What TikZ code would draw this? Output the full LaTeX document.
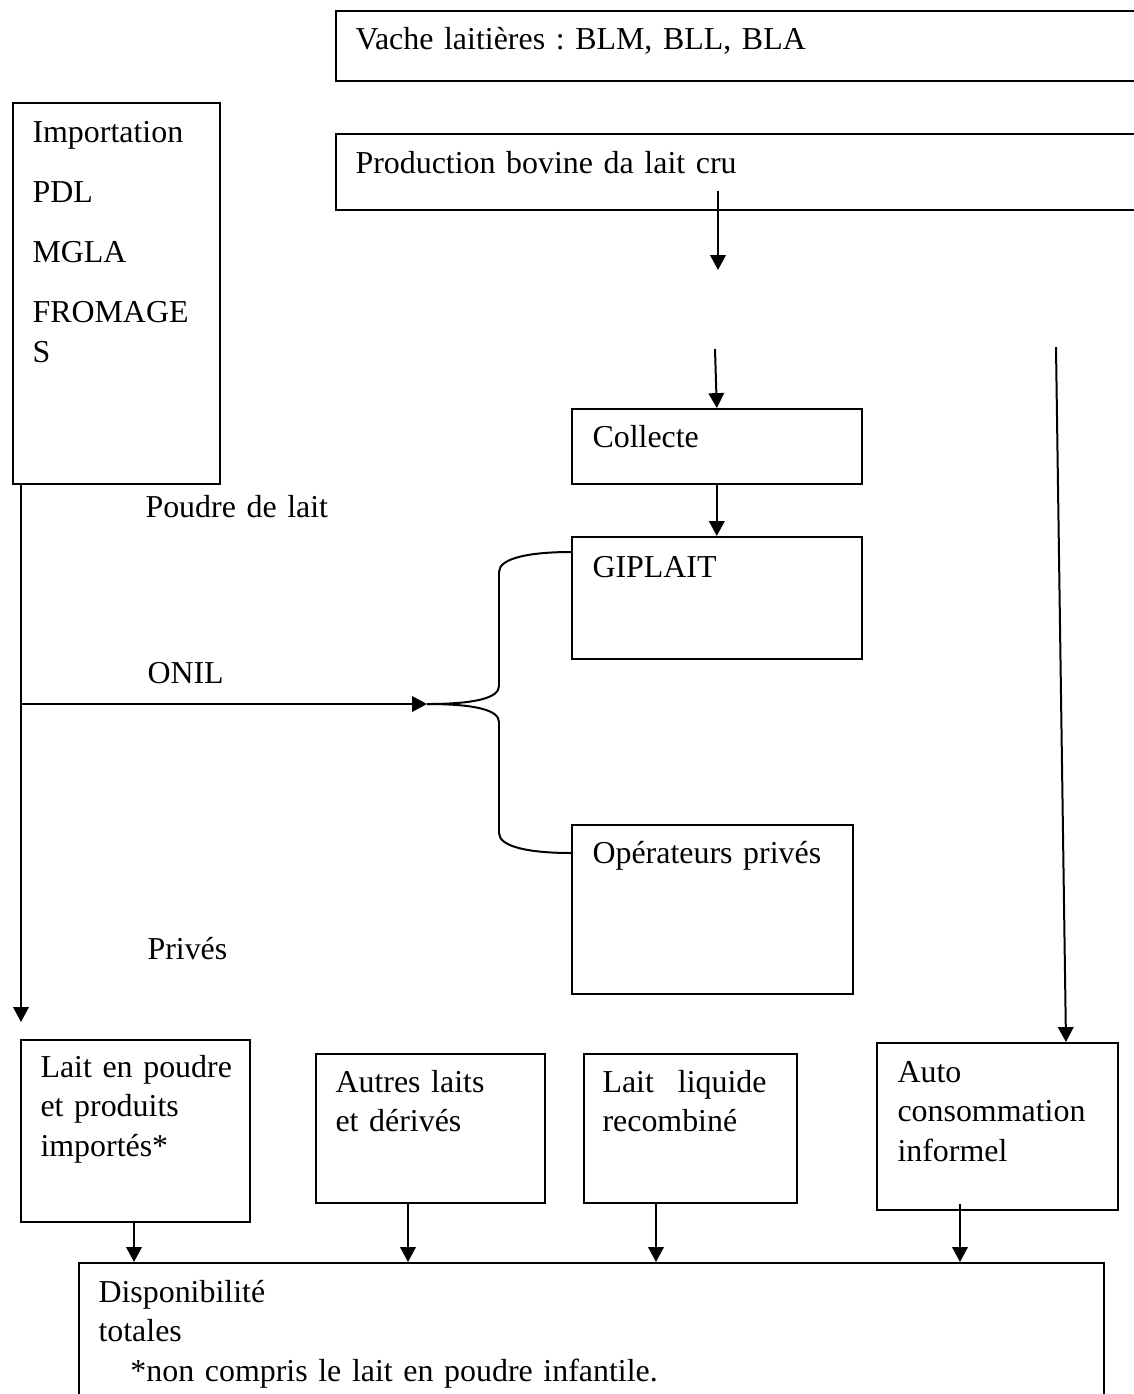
\documentclass[tikz,border=0pt]{standalone}
\usepackage{fontspec}
\setmainfont{Liberation Serif}
\usepackage{tikz}
\usetikzlibrary{arrows.meta, positioning, calc}
\newcommand{\px}{0.376pt}
\newcommand{\boxfont}{\fontsize{12}{15}\selectfont\frenchspacing\spaceskip=2.2pt\relax}

\begin{document}
\begin{tikzpicture}[x=0.376pt, y=-0.376pt, >={Triangle[length=5.6pt, width=5.8pt]},
    every node/.style={font=\boxfont}]
            % styles: plain boxes, text set from the top left corner
            \tikzset{
                box/.style={draw, line width=0.6pt, anchor=north west, inner sep=0pt},
                txt/.style={anchor=base west, inner sep=0pt, align=left, text width=900*\px},
                flow/.style={->, line width=0.75pt}
            }
            \path[use as bounding box, clip] (0,0) rectangle (1134,1394);
            % boxes
            \node[box, minimum width=820*\px, minimum height=70*\px] (vache) at (335,10) {};
            \node[box, minimum width=820*\px, minimum height=76*\px] (prod) at (335,133) {};
            \node[box, minimum width=207*\px, minimum height=381*\px] (import) at (12,102) {};
            \node[box, minimum width=290*\px, minimum height=75*\px] (collecte) at (571,408) {};
            \node[box, minimum width=290*\px, minimum height=122*\px] (giplait) at (571,536) {};
            \node[box, minimum width=281*\px, minimum height=169*\px] (privop) at (571,824) {};
            \node[box, minimum width=229*\px, minimum height=182*\px] (poudre) at (20,1039) {};
            \node[box, minimum width=229*\px, minimum height=149*\px] (autres) at (315,1053) {};
            \node[box, minimum width=213*\px, minimum height=149*\px] (liquide) at (583,1053) {};
            \node[box, minimum width=241*\px, minimum height=167*\px] (auto) at (876,1042) {};
            \node[box, minimum width=1025*\px, minimum height=200*\px] (dispo) at (78,1262) {};
            % texts in the boxes
            \node[txt] (vache-t) at (355,49) {Vache laitières : BLM, BLL, BLA};
            \node[txt] (prod-t) at (355,173) {Production bovine da lait cru};
            \node[txt] (import-t) at (32,142) {Importation\\[7.6pt]PDL\\[7.6pt]MGLA\\[7.6pt]FROMAGE\\S};
            \node[txt] (collecte-t) at (592,447) {Collecte};
            \node[txt] (giplait-t) at (592,577) {GIPLAIT};
            \node[txt] (privop-t) at (592,863) {Opérateurs privés};
            \node[txt] (poudre-t) at (40,1077) {Lait en poudre\\et produits\\importés*};
            \node[txt] (autres-t) at (335,1092) {Autres laits\\et dérivés};
            \node[txt] (liquide-t) at (602,1092) {Lait\hspace{9pt}liquide\\recombiné};
            \node[txt] (auto-t) at (897,1082) {Auto\\consommation\\informel};
            \node[txt] (dispo-t) at (98,1302) {Disponibilité\\totales\\\hspace*{12pt}*non compris le lait en poudre infantile.};
            % labels along the left line
            \node[txt] (lpoudre) at (145,517) {Poudre de lait};
            \node[txt] (lonil) at (147,683) {ONIL};
            \node[txt] (lprives) at (147,959) {Privés};
            % free ends
            \coordinate (prodout) at (718,270);
            \coordinate (colin) at (715,349);
            \coordinate (split) at (21,704);
            \coordinate (tip) at (427,704);
            \coordinate (poudin) at (21,1022);
            \coordinate (rawtop) at (1056,347);
            % raw milk chain
            \draw[flow] ($(prodout |- prod.south)+(0,-20)$) -- (prodout);
            \draw[flow] (colin) -- (collecte.north);
            \draw[flow] (collecte.south) -- (giplait.north);
            \draw[flow] (rawtop) -- ($(auto.north west)+(190,0)$);
            % imports down the left side, ONIL to the brace
            \draw[flow] (split |- import.south) -- (poudin);
            \draw[flow] (split) -- (tip);
            \draw[line width=0.75pt] (tip) .. controls (475,704) and (499,698) .. (499,686) -- (499,572)
                .. controls (499,558) and (530,552) .. ($(giplait.north west)+(0,16)$);
            \draw[line width=0.75pt] (tip) .. controls (475,704) and (499,710) .. (499,722) -- (499,833)
                .. controls (499,847) and (530,853) .. ($(privop.north west)+(0,29)$);
            % into the total
            \draw[flow] ($(poudre.south west)+(114,0)$) coordinate (d1) -- (d1 |- dispo.north);
            \draw[flow] ($(autres.south west)+(93,0)$) coordinate (d2) -- (d2 |- dispo.north);
            \draw[flow] ($(liquide.south west)+(73,0)$) coordinate (d3) -- (d3 |- dispo.north);
            \draw[flow] ($(auto.south west)+(84,-7)$) coordinate (d4) -- (d4 |- dispo.north);
\end{tikzpicture}
\end{document}
